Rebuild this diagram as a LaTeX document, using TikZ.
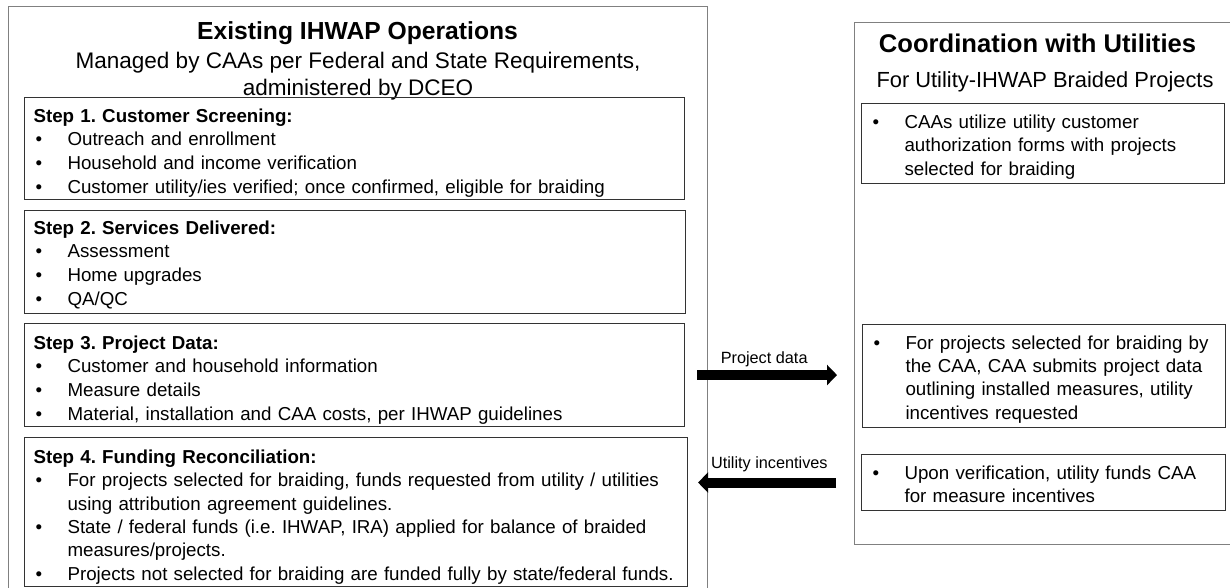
\documentclass[tikz,border=0pt]{standalone}
\usepackage{fontspec}
\setmainfont{Liberation Sans}
\usetikzlibrary{arrows.meta}
\setlength{\parindent}{0pt}
\frenchspacing

% bullet line, continuation line, top and bottom struts
\newcommand{\bitem}[1]{\makebox[25.5pt][l]{\hspace{1.5pt}\textbullet}\mbox{#1}}
\newcommand{\bcont}[1]{\hspace*{25.5pt}\mbox{#1}}
\newcommand{\topgap}[1]{\rule{0pt}{#1}}
\newcommand{\botgap}[1]{\rule[-#1]{0pt}{#1}}

\tikzset{
  panel/.style={draw=black!50, line width=1pt, anchor=north west, inner sep=0pt},
  stepbox/.style={draw=black!80, line width=0.8pt, anchor=north west, align=left, inner xsep=6.75pt, inner ysep=0pt, font=\fontsize{14.05}{17.8}\selectfont},
  utilbox/.style={stepbox, font=\fontsize{14.05}{17.55}\selectfont},
  flow/.style={line width=7.5pt, -{Triangle[length=7.5pt,width=15pt]}},
  flowlabel/.style={font=\fontsize{12.2}{14}\selectfont, inner sep=0pt},
}

\begin{document}
\begin{tikzpicture}[x=0.75pt,y=0.75pt,yscale=-1]
    \useasboundingbox (0,0) rectangle (1230,588);

    %Shape: outer panels
    \node[panel, minimum width=524.25pt, minimum height=437.25pt] (ops) at (8,6) {};
    \node[panel, minimum width=282.75pt, minimum height=391.5pt] (util) at (854,22) {};

    % Text Node
    \node[anchor=base, inner sep=0pt, font=\bfseries\fontsize{18.5}{22}\selectfont] (opstitle) at (357.5,40) {Existing IHWAP Operations};
    % Text Node
    \node[anchor=north, inner sep=0pt, align=center, font=\fontsize{16.9}{20.25}\selectfont] (opssub) at (358,52) {Managed by CAAs per Federal and State Requirements,\\administered by DCEO};
    % Text Node
    \node[anchor=base, inner sep=0pt, font=\bfseries\fontsize{19.2}{22}\selectfont] (utiltitle) at (1037.5,53) {Coordination with Utilities};
    % Text Node
    \node[anchor=base, inner sep=0pt, font=\fontsize{16.4}{20}\selectfont] (utilsub) at (1045,88) {For Utility-IHWAP Braided Projects};

    %Shape: step boxes
    \node[stepbox, text width=481.5pt, minimum height=76.5pt] (screening) at (24,97) {\topgap{18.4pt}\textbf{Step 1. Customer Screening:}\\
      \bitem{Outreach and enrollment}\\
      \bitem{Household and income verification}\\
      \bitem{Customer utility/ies verified; once confirmed, eligible for braiding}\botgap{4.7pt}};
    \node[stepbox, text width=482.25pt, minimum height=77.25pt] (services) at (24,210) {\topgap{17.6pt}\textbf{Step 2. Services Delivered:}\\
      \bitem{Assessment}\\
      \bitem{Home upgrades}\\
      \bitem{QA/QC}\botgap{6.2pt}};
    \node[stepbox, text width=481.5pt, minimum height=77.25pt] (projdata) at (24,323) {\topgap{19.1pt}\textbf{Step 3. Project Data:}\\
      \bitem{Customer and household information}\\
      \bitem{Measure details}\\
      \bitem{Material, installation and CAA costs, per IHWAP guidelines}\botgap{4.7pt}};
    \node[stepbox, font=\fontsize{14.05}{17.5}\selectfont, text width=483.75pt, minimum height=111.75pt] (funding) at (24,437) {\topgap{19.5pt}\textbf{Step 4. Funding Reconciliation:}\\
      \bitem{For projects selected for braiding, funds requested from utility / utilities}\\
      \bcont{using attribution agreement guidelines.}\\
      \bitem{State / federal funds (i.e. IHWAP, IRA) applied for balance of braided}\\
      \bcont{measures/projects.}\\
      \bitem{Projects not selected for braiding are funded fully by state/federal funds.}\botgap{4.7pt}};

    %Shape: utility boxes
    \node[utilbox, text width=258.75pt, minimum height=60pt] (authbox) at (861,103) {\topgap{18.75pt}\bitem{CAAs utilize utility customer}\\
      \bcont{authorization forms with projects}\\
      \bcont{selected for braiding}\botgap{6.1pt}};
    \node[utilbox, text width=258.75pt, minimum height=77.25pt] (submitbox) at (862,324) {\topgap{18.4pt}\bitem{For projects selected for braiding by}\\
      \bcont{the CAA, CAA submits project data}\\
      \bcont{outlining installed measures, utility}\\
      \bcont{incentives requested}\botgap{6.2pt}};
    \node[utilbox, text width=259.5pt, minimum height=42pt] (fundbox) at (861,454) {\topgap{18.4pt}\bitem{Upon verification, utility funds CAA}\\
      \bcont{for measure incentives}\botgap{6pt}};

    %Arrows
    \draw[flow, shorten <=9pt, shorten >=18.75pt] (projdata.east) -- (projdata.east -| submitbox.west)
      node[flowlabel, pos=0.447, above=2pt] {Project data};
    \draw[flow, shorten <=18.75pt, shorten >=7.5pt] (fundbox.west) -- (fundbox.west -| funding.east)
      node[flowlabel, pos=0.53, above=4.5pt] {Utility incentives};

\end{tikzpicture}
\end{document}
